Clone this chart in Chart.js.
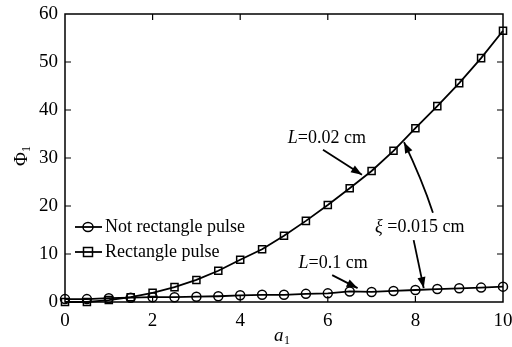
<!DOCTYPE html>
<html>
<head>
<meta charset="utf-8">
<script src="https://cdn.jsdelivr.net/npm/chart.js@4.4.0/dist/chart.umd.min.js"></script>
<style>
  html, body { margin: 0; padding: 0; background: #fff; }
  #wrap { width: 512px; height: 347px; }
</style>
</head>
<body>
<div id="wrap"><canvas id="chart"></canvas></div>
<script>
// values
const aValues = [0, 0.5, 1, 1.5, 2, 2.5, 3, 3.5, 4, 4.5, 5, 5.5, 6, 6.5, 7, 7.5, 8, 8.5, 9, 9.5, 10];
const notRectPulse = [0.6, 0.6, 0.8, 0.9, 1.0, 1.0, 1.1, 1.2, 1.4, 1.5, 1.5, 1.7, 1.8, 2.2, 2.1, 2.3, 2.5, 2.7, 2.85, 3.0, 3.2];
const rectPulse = [0.0, 0.0, 0.4, 1.0, 1.9, 3.1, 4.6, 6.5, 8.8, 11.0, 13.8, 16.9, 20.2, 23.7, 27.3, 31.5, 36.2, 40.8, 45.6, 50.8, 56.5];
const xTicks = [0, 2, 4, 6, 8, 10];
const yTicks = [0, 10, 20, 30, 40, 50, 60];
const seriesNames = ["Not rectangle pulse", "Rectangle pulse"];

const SERIF = "'Liberation Serif', 'Times New Roman', serif";

function toPoints(ys) {
    return aValues.map((a, i) => ({ x: a, y: ys[i] }));
}

function arrow(ctx, x1, y1, x2, y2, cx, cy) {
    ctx.beginPath();
    ctx.moveTo(x1, y1);
    let fx = x1, fy = y1;
    if (cx !== undefined) {
        ctx.quadraticCurveTo(cx, cy, x2, y2);
        fx = cx; fy = cy;
    } else {
        ctx.lineTo(x2, y2);
    }
    ctx.stroke();
    const ang = Math.atan2(y2 - fy, x2 - fx);
    const len = 11, w = 4;
    ctx.beginPath();
    ctx.moveTo(x2, y2);
    ctx.lineTo(x2 - len * Math.cos(ang) + w * Math.sin(ang), y2 - len * Math.sin(ang) - w * Math.cos(ang));
    ctx.lineTo(x2 - len * Math.cos(ang) - w * Math.sin(ang), y2 - len * Math.sin(ang) + w * Math.cos(ang));
    ctx.closePath();
    ctx.fill();
}

// italic symbol followed by upright text, centred on (x, y)
function label(ctx, sym, rest, x, y) {
    ctx.font = "italic 18px " + SERIF;
    const w1 = ctx.measureText(sym).width;
    ctx.font = "18px " + SERIF;
    const w2 = ctx.measureText(rest).width;
    let left = x - (w1 + w2) / 2;
    ctx.textAlign = "left";
    ctx.textBaseline = "middle";
    ctx.font = "italic 18px " + SERIF;
    ctx.fillText(sym, left, y);
    ctx.font = "18px " + SERIF;
    ctx.fillText(rest, left + w1, y);
}

const decorPlugin = {
    id: "decor",
    afterDatasetsDraw(chart) {
        const ctx = chart.ctx;
        const area = chart.chartArea;
        const xs = chart.scales.x, ys = chart.scales.y;
        const px = v => xs.getPixelForValue(v);
        const py = v => ys.getPixelForValue(v);

        ctx.save();
        ctx.strokeStyle = "#000";
        ctx.fillStyle = "#000";

        // frame
        ctx.lineWidth = 1.5;
        ctx.strokeRect(area.left, area.top, area.right - area.left, area.bottom - area.top);

        // inward ticks
        ctx.lineWidth = 1.2;
        ctx.beginPath();
        xTicks.slice(1, -1).forEach(v => {
            ctx.moveTo(px(v), area.bottom); ctx.lineTo(px(v), area.bottom - 6);
            ctx.moveTo(px(v), area.top); ctx.lineTo(px(v), area.top + 6);
        });
        yTicks.slice(1, -1).forEach(v => {
            ctx.moveTo(area.left, py(v)); ctx.lineTo(area.left + 6, py(v));
            ctx.moveTo(area.right, py(v)); ctx.lineTo(area.right - 6, py(v));
        });
        ctx.stroke();

        // axis titles
        ctx.textBaseline = "middle";
        ctx.textAlign = "left";
        ctx.font = "italic 19px " + SERIF;
        const ax = (area.left + area.right) / 2 - 10;
        ctx.fillText("a", ax, 336);
        ctx.font = "12px " + SERIF;
        ctx.fillText("1", ax + 10, 341);

        ctx.save();
        ctx.translate(22, (area.top + area.bottom) / 2);
        ctx.rotate(-Math.PI / 2);
        ctx.font = "19px " + SERIF;
        ctx.fillText("\u03A6", -8, 0);
        ctx.font = "12px " + SERIF;
        ctx.fillText("1", 6, 5);
        ctx.restore();

        // legend
        const rows = [
            { y: 227, style: "circle", name: seriesNames[0] },
            { y: 252, style: "rect", name: seriesNames[1] }
        ];
        rows.forEach(r => {
            ctx.lineWidth = 1.8;
            ctx.beginPath();
            ctx.moveTo(75, r.y); ctx.lineTo(102, r.y);
            ctx.stroke();
            ctx.lineWidth = 1.5;
            ctx.beginPath();
            if (r.style === "circle") {
                ctx.ellipse(88, r.y, 5, 4.5, 0, 0, Math.PI * 2);
            } else {
                ctx.rect(83.5, r.y - 4.5, 9, 9);
            }
            ctx.stroke();
            ctx.font = "18px " + SERIF;
            ctx.textAlign = "left";
            ctx.textBaseline = "middle";
            ctx.fillText(r.name, 105, r.y);
        });

        // annotations
        ctx.lineWidth = 1.8;
        label(ctx, "L", "=0.02 cm", px(5.98), py(34.2));
        arrow(ctx, px(5.89), py(31.7), px(6.78), py(26.5));

        label(ctx, "\u03BE", " =0.015 cm", px(8.1), py(15.6));
        arrow(ctx, px(8.4), py(18.6), px(7.74), py(33.3), px(8.15), py(25.5));
        arrow(ctx, px(7.96), py(12.9), px(8.19), py(2.9));

        label(ctx, "L", "=0.1 cm", px(6.12), py(8.1));
        arrow(ctx, px(6.1), py(5.6), px(6.68), py(2.9));

        ctx.restore();
    }
};

new Chart(document.getElementById("chart"), {
    type: "line",
    data: {
        datasets: [
            {
                label: seriesNames[0],
                data: toPoints(notRectPulse),
                borderColor: "#000",
                borderWidth: 1.8,
                pointStyle: "circle",
                pointRadius: 4.5,
                pointBorderWidth: 1.5,
                pointBackgroundColor: "rgba(0,0,0,0)",
                pointBorderColor: "#000",
                clip: false
            },
            {
                label: seriesNames[1],
                data: toPoints(rectPulse),
                borderColor: "#000",
                borderWidth: 1.8,
                pointStyle: "rect",
                pointRadius: 5,
                pointBorderWidth: 1.5,
                pointBackgroundColor: "rgba(0,0,0,0)",
                pointBorderColor: "#000",
                clip: false
            }
        ]
    },
    options: {
        responsive: true,
        maintainAspectRatio: false,
        animation: false,
        layout: { padding: { top: 14, right: 9, left: 0, bottom: 0 } },
        plugins: {
            legend: { display: false },
            tooltip: { enabled: false }
        },
        scales: {
            x: {
                type: "linear",
                min: 0,
                max: 10,
                afterBuildTicks: s => { s.ticks = xTicks.map(v => ({ value: v })); },
                afterFit: s => { s.height = 45; s.paddingLeft = 0; s.paddingRight = 0; },
                grid: { display: false, drawTicks: false },
                border: { display: false },
                ticks: { color: "#000", padding: 8, maxRotation: 0, font: { family: SERIF, size: 19 } }
            },
            y: {
                type: "linear",
                min: 0,
                max: 60,
                afterBuildTicks: s => { s.ticks = yTicks.map(v => ({ value: v })); },
                afterFit: s => { s.width = 65; s.paddingTop = 0; s.paddingBottom = 0; },
                grid: { display: false, drawTicks: false },
                border: { display: false },
                ticks: { color: "#000", padding: 7, font: { family: SERIF, size: 19 } }
            }
        }
    },
    plugins: [decorPlugin]
});
</script>
</body>
</html>
